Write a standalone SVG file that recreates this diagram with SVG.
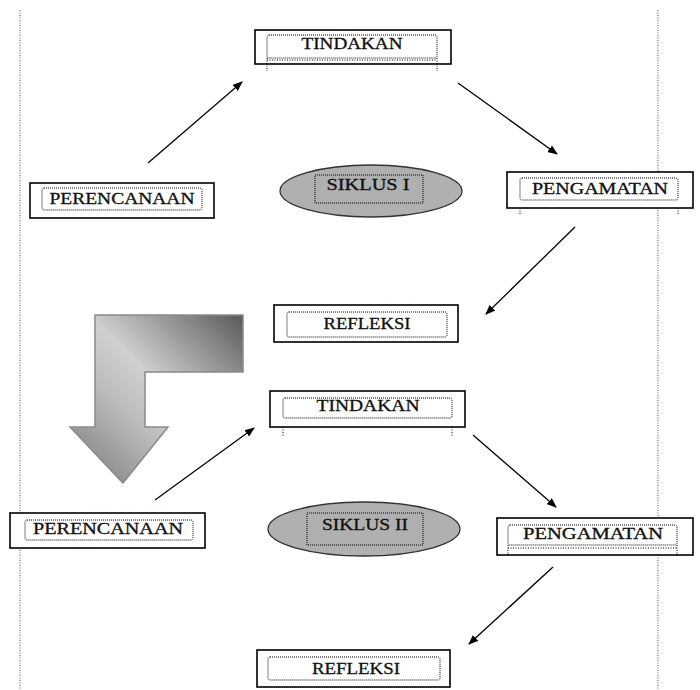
<svg xmlns="http://www.w3.org/2000/svg" width="700" height="690" viewBox="0 0 700 690">
<style>
.page{stroke:#555;stroke-width:1;stroke-dasharray:1 1.5;fill:none}
.box{fill:#fff;stroke:#000;stroke-width:1.6}
.inner{fill:none;stroke:#000;stroke-width:1;stroke-dasharray:1 1}
.tick{stroke:#000;stroke-width:1;stroke-dasharray:1 1.5;fill:none}
.ell{fill:#b0b0b0;stroke:#333;stroke-width:1.3}
.lbl{font-family:"Liberation Serif","Times New Roman",serif;font-size:16px;fill:#111;stroke:#111;stroke-width:0.3;text-anchor:middle}
.con{stroke:#000;stroke-width:1.3;fill:none;marker-end:url(#ah)}
</style>
<defs>
<marker id="ah" viewBox="0 0 10 8" refX="9" refY="4" markerWidth="10" markerHeight="8" markerUnits="userSpaceOnUse" orient="auto">
<path d="M0,0 L10,4 L0,8 Z" fill="#000"/>
</marker>
<linearGradient id="gr" x1="1" y1="0" x2="0" y2="1">
<stop offset="0" stop-color="#5a5a5a"/>
<stop offset="0.45" stop-color="#d0d0d0"/>
<stop offset="0.62" stop-color="#bdbdbd"/>
<stop offset="1" stop-color="#777"/>
</linearGradient>
</defs>
<rect width="700" height="690" fill="#fff"/>
<g id="pagelines">
<line class="page" x1="20" y1="10" x2="20" y2="690"/>
<line class="page" x1="658" y1="10" x2="658" y2="690"/>
</g>
<g id="bigarrow">
<path d="M95,315 L243,315 L243,372 L145,372 L145,427 L168,427 L123,483 L70,427 L95,427 Z" fill="url(#gr)" stroke="#8a8a8a" stroke-width="1.5"/>
</g>
<g id="connectors">
<line class="con" x1="148" y1="163" x2="242" y2="82"/>
<line class="con" x1="458" y1="83" x2="557" y2="154"/>
<line class="con" x1="575" y1="227" x2="486" y2="314"/>
<line class="con" x1="155" y1="500" x2="254" y2="428"/>
<line class="con" x1="473" y1="435" x2="556" y2="507"/>
<line class="con" x1="553" y1="567" x2="469" y2="644"/>
</g>
<g id="tindakan1">
<rect class="box" x="255" y="30" width="196" height="34"/>
<rect class="inner" x="267" y="35" width="170" height="23" rx="2"/>
<line class="tick" x1="267" y1="60" x2="437" y2="60"/>
<line class="tick" x1="267" y1="58" x2="267" y2="71"/>
<line class="tick" x1="437" y1="58" x2="437" y2="71"/>
<text class="lbl" x="352" y="49" textLength="101" lengthAdjust="spacingAndGlyphs">TINDAKAN</text>
</g>
<g id="perencanaan1">
<rect class="box" x="30" y="183" width="184" height="35"/>
<rect class="inner" x="42" y="188" width="160" height="22" rx="2"/>
<text class="lbl" x="122" y="204" textLength="145" lengthAdjust="spacingAndGlyphs">PERENCANAAN</text>
</g>
<g id="siklus1">
<ellipse class="ell" cx="371" cy="191" rx="91" ry="26"/>
<rect class="inner" x="315" y="175" width="108" height="28"/>
<text class="lbl" x="368" y="190" textLength="83" lengthAdjust="spacingAndGlyphs">SIKLUS I</text>
</g>
<g id="pengamatan1">
<rect class="box" x="507" y="172" width="186" height="36"/>
<rect class="inner" x="520" y="178" width="158" height="22" rx="2"/>
<line class="tick" x1="520" y1="208" x2="520" y2="215"/>
<line class="tick" x1="678" y1="208" x2="678" y2="215"/>
<text class="lbl" x="600" y="194" textLength="136" lengthAdjust="spacingAndGlyphs">PENGAMATAN</text>
</g>
<g id="refleksi1">
<rect class="box" x="274" y="305" width="184" height="37"/>
<rect class="inner" x="287" y="312" width="160" height="25" rx="2"/>
<text class="lbl" x="367" y="329" textLength="87" lengthAdjust="spacingAndGlyphs">REFLEKSI</text>
</g>
<g id="tindakan2">
<rect class="box" x="270" y="391" width="195" height="36"/>
<rect class="inner" x="283" y="398" width="169" height="20" rx="2"/>
<line class="tick" x1="283" y1="427" x2="283" y2="437"/>
<line class="tick" x1="452" y1="427" x2="452" y2="437"/>
<text class="lbl" x="368" y="411" textLength="103" lengthAdjust="spacingAndGlyphs">TINDAKAN</text>
</g>
<g id="perencanaan2">
<rect class="box" x="10" y="513" width="195" height="35"/>
<rect class="inner" x="25" y="520" width="168" height="20" rx="2"/>
<text class="lbl" x="108" y="534" textLength="150" lengthAdjust="spacingAndGlyphs">PERENCANAAN</text>
</g>
<g id="siklus2">
<ellipse class="ell" cx="364" cy="529" rx="96" ry="27"/>
<rect class="inner" x="307" y="513" width="116" height="32"/>
<text class="lbl" x="365" y="530" textLength="86" lengthAdjust="spacingAndGlyphs">SIKLUS II</text>
</g>
<g id="pengamatan2">
<rect class="box" x="497" y="518" width="196" height="37"/>
<rect class="inner" x="508" y="525" width="169" height="20" rx="2"/>
<line class="tick" x1="508" y1="548" x2="677" y2="548"/>
<line class="tick" x1="508" y1="545" x2="508" y2="556"/>
<line class="tick" x1="677" y1="545" x2="677" y2="556"/>
<text class="lbl" x="593" y="539" textLength="140" lengthAdjust="spacingAndGlyphs">PENGAMATAN</text>
</g>
<g id="refleksi2">
<rect class="box" x="257" y="650" width="193" height="37"/>
<rect class="inner" x="268" y="657" width="172" height="23" rx="2"/>
<text class="lbl" x="356" y="674" textLength="88" lengthAdjust="spacingAndGlyphs">REFLEKSI</text>
</g>
</svg>
